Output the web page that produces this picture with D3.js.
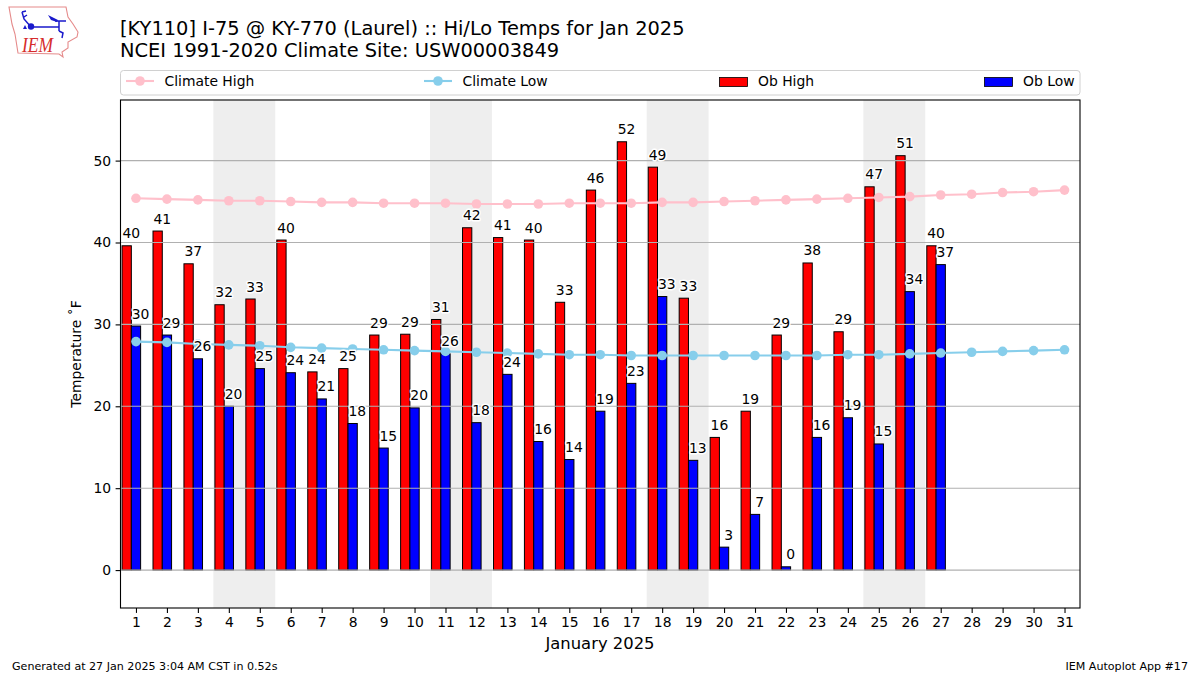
<!DOCTYPE html>
<html><head><meta charset="utf-8">
<script src="https://cdnjs.cloudflare.com/ajax/libs/d3/7.8.5/d3.min.js"></script>
<style>
html,body{margin:0;padding:0;background:#fff}
svg{display:block}
text{font-family:"DejaVu Sans",sans-serif;fill:#000}
</style></head><body>
<svg id="c" width="1200" height="675"></svg>
<script>
const days = d3.range(1, 32);
const obDays = d3.range(1, 28);
const obHigh = [39.6,41.4,37.4,32.4,33.1,40.3,24.2,24.6,28.7,28.8,30.6,41.8,40.6,40.3,32.7,46.4,52.3,49.2,33.2,16.2,19.4,28.7,37.5,29.1,46.8,50.6,39.6];
const obLow = [29.8,28.7,25.8,20.0,24.6,24.1,20.9,17.9,14.9,19.8,26.4,18.0,23.9,15.7,13.5,19.4,22.8,33.4,13.4,2.8,6.8,0.4,16.2,18.6,15.4,34.0,37.3];
const climHigh = [45.4,45.3,45.2,45.1,45.1,45.0,44.9,44.9,44.8,44.8,44.8,44.7,44.7,44.7,44.8,44.8,44.8,44.9,44.9,45.0,45.1,45.2,45.3,45.4,45.5,45.6,45.8,45.9,46.1,46.2,46.4];
const climLow = [27.9,27.8,27.6,27.5,27.4,27.2,27.1,27.0,26.9,26.8,26.7,26.6,26.5,26.4,26.3,26.3,26.2,26.2,26.2,26.2,26.2,26.2,26.2,26.3,26.3,26.4,26.5,26.6,26.7,26.8,26.9];
const weekends = [[3.5,5.5],[10.5,12.5],[17.5,19.5],[24.5,26.5]];
const yTicks = [0,10,20,30,40,50];
const title = ["[KY110] I-75 @ KY-770 (Laurel) :: Hi/Lo Temps for Jan 2025","NCEI 1991-2020 Climate Site: USW00003849"];

const svg = d3.select("#c");
const L=120.5,R=1080,T=100,B=608;
const x = d3.scaleLinear().domain([0.5,31.5]).range([L,R]);
const y = d3.scaleLinear().domain([-4.63,57.4]).range([B,T]);
const bw = 0.3;

// logo (approximate Iowa outline + station glyph)
const logo = svg.append("g");
logo.append("path").attr("d","M9 7 L66 7 L68 17 L73 24 L78 32 L77 37 L68 42 L68 48 L62 52 L63 57 L59 54 L18 53 L15 34 L12 24 Z")
  .attr("fill","#fff").attr("stroke","#e58a8a").attr("stroke-width",1.1);
logo.append("path").attr("d","M31 27 H59 M59 21 V31 M55 21 H66 M31 27 L24 19 L22 12 M22 12 L26 11 M24 17 L27 15 M59 31 L63 33 L62 38")
  .attr("fill","none").attr("stroke","#1a1acc").attr("stroke-width",1.5);
logo.append("path").attr("d","M48 15 L58 20 L57 22 L51 20 Z M23 29 L25 25 L27 29 Z").attr("fill","#1a1acc");
logo.append("circle").attr("cx",31).attr("cy",26.5).attr("r",3.2).attr("fill","#1a1acc");
logo.append("text").attr("x",22).attr("y",52).style("font-family","'Liberation Serif',serif")
  .attr("font-style","italic").attr("font-size",22).attr("textLength",31).attr("lengthAdjust","spacingAndGlyphs").style("fill","#d62c2c").text("IEM");

// titles
svg.selectAll("text.title").data(title).join("text").attr("class","title")
  .attr("x",120).attr("y",(d,i)=>35+i*22).attr("font-size",19.4).text(d=>d);

// legend
const lg = svg.append("g");
lg.append("rect").attr("x",120.5).attr("y",70.5).attr("width",959.5).attr("height",24.5).attr("rx",3)
  .attr("fill","#fff").attr("stroke","#d0d0d0").attr("stroke-width",1);
const legendLines = [{x:126,c:"#ffc0cb",t:"Climate High"},{x:424,c:"#87ceeb",t:"Climate Low"}];
const legendBars = [{x:719,c:"#ff0000",t:"Ob High"},{x:984,c:"#0000ff",t:"Ob Low"}];
legendLines.forEach(d=>{
  lg.append("line").attr("x1",d.x).attr("x2",d.x+28).attr("y1",81).attr("y2",81).attr("stroke",d.c).attr("stroke-width",2.1);
  lg.append("circle").attr("cx",d.x+14).attr("cy",81).attr("r",4.8).attr("fill",d.c);
  lg.append("text").attr("x",d.x+38.5).attr("y",86).attr("font-size",13.9).text(d.t);
});
legendBars.forEach(d=>{
  lg.append("rect").attr("x",d.x+.5).attr("y",77.5).attr("width",28).attr("height",9).attr("fill",d.c).attr("stroke","#000").attr("stroke-width",0.8);
  lg.append("text").attr("x",d.x+39).attr("y",86).attr("font-size",13.9).text(d.t);
});

// plot
const plot = svg.append("g");
plot.selectAll("rect.wk").data(weekends).join("rect").attr("class","wk")
  .attr("x",d=>x(d[0])).attr("width",d=>x(d[1])-x(d[0])).attr("y",T).attr("height",B-T).attr("fill","#eeeeee");

function bars(vals,off,col){
  plot.append("g").selectAll("rect").data(vals).join("rect")
    .attr("x",(d,i)=>x(obDays[i]+off)).attr("width",x(bw)-x(0))
    .attr("y",d=>y(d)).attr("height",d=>y(0)-y(d))
    .attr("fill",col).attr("stroke","#000").attr("stroke-width",1);
}
bars(obHigh,-0.45,"#ff0000");
bars(obLow,-0.15,"#0000ff");

plot.append("g").selectAll("line").data(yTicks).join("line")
  .attr("x1",L).attr("x2",R).attr("y1",d=>y(d)).attr("y2",d=>y(d))
  .attr("stroke","#b0b0b0").attr("stroke-width",1.1);

function clim(vals,col){
  const line = d3.line().x((d,i)=>x(days[i])).y(d=>y(d));
  plot.append("path").attr("d",line(vals)).attr("fill","none").attr("stroke",col).attr("stroke-width",2.1);
  plot.append("g").selectAll("circle").data(vals).join("circle")
    .attr("cx",(d,i)=>x(days[i])).attr("cy",d=>y(d)).attr("r",4.8).attr("fill",col);
}
clim(climHigh,"#ffc0cb");
clim(climLow,"#87ceeb");

function labels(vals,off){
  plot.append("g").selectAll("text").data(vals).join("text")
    .attr("x",(d,i)=>x(obDays[i]+off)).attr("y",d=>y(d)-7.5)
    .attr("font-size",13.9).attr("text-anchor","middle")
    .attr("stroke","#fff").attr("stroke-width",3).attr("paint-order","stroke").attr("stroke-linejoin","round")
    .text(d=>Math.round(d));
}
labels(obHigh,-0.15);
labels(obLow,0.15);

// axes
const ax = svg.append("g").attr("transform",`translate(0,${B})`)
  .call(d3.axisBottom(x).tickValues(days).tickFormat(d3.format("d")).tickSize(4.9).tickPadding(4.5));
const ay = svg.append("g").attr("transform",`translate(${L},0)`)
  .call(d3.axisLeft(y).tickValues(yTicks).tickSize(4.9).tickPadding(4.5));
[ax,ay].forEach(a=>{
  a.selectAll("text").attr("font-size",13.9).style("font-family","'DejaVu Sans',sans-serif");
  a.selectAll("line").attr("stroke","#000").attr("stroke-width",1.1);
  a.select(".domain").remove();
});
svg.append("rect").attr("x",L).attr("y",T).attr("width",R-L).attr("height",B-T)
  .attr("fill","none").attr("stroke","#000").attr("stroke-width",1.1);

svg.append("text").attr("x",600).attr("y",649).attr("text-anchor","middle").attr("font-size",16.4).text("January 2025");
svg.append("text").attr("transform","translate(81,354) rotate(-90)").attr("text-anchor","middle").attr("font-size",13.9).text("Temperature \u02DAF");
svg.append("text").attr("x",12).attr("y",670).attr("font-size",11.1).text("Generated at 27 Jan 2025 3:04 AM CST in 0.52s");
svg.append("text").attr("x",1188).attr("y",670).attr("text-anchor","end").attr("font-size",11.1).text("IEM Autoplot App #17");
</script>
</body></html>
